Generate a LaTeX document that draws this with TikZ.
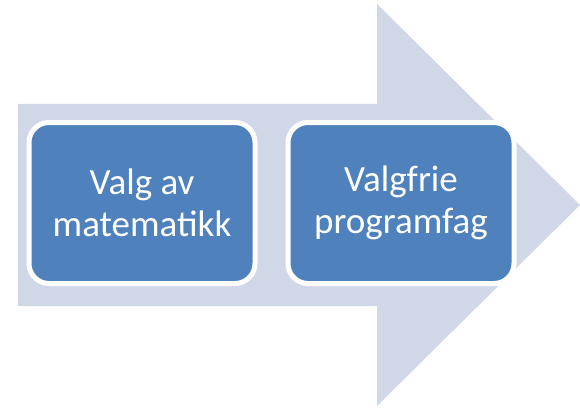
\documentclass[tikz,border=0pt]{standalone}
\usepackage{fontspec}
\setmainfont{Carlito}
\usetikzlibrary{positioning}
\definecolor{mpale}{HTML}{D0D8E8}
\definecolor{mbox}{HTML}{4F81BD}
\tikzset{stepbox/.style = {draw = white, line width = 5, fill = mbox, rounded corners = 20,
    minimum width = 226, minimum height = 161, inner sep = 0, align = center,
    text = white, font = \fontsize{37}{42}\selectfont}}
\begin{document}
\begin{tikzpicture}[x = 1pt, y = -1pt]
    \useasboundingbox (0, 0) rectangle (580, 409);
    \fill [mpale] (18, 104) -- (377, 104) -- (377, 4) -- (580, 205)
      -- (377, 406) -- (377, 306) -- (18, 306) -- cycle;
    \node [stepbox] (matte) at (142, 203) {Valg av\\matematikk};
    \node [stepbox] (valgfrie) at (401, 203) {Valgfrie\\programfag};
  \end{tikzpicture}
\end{document}
